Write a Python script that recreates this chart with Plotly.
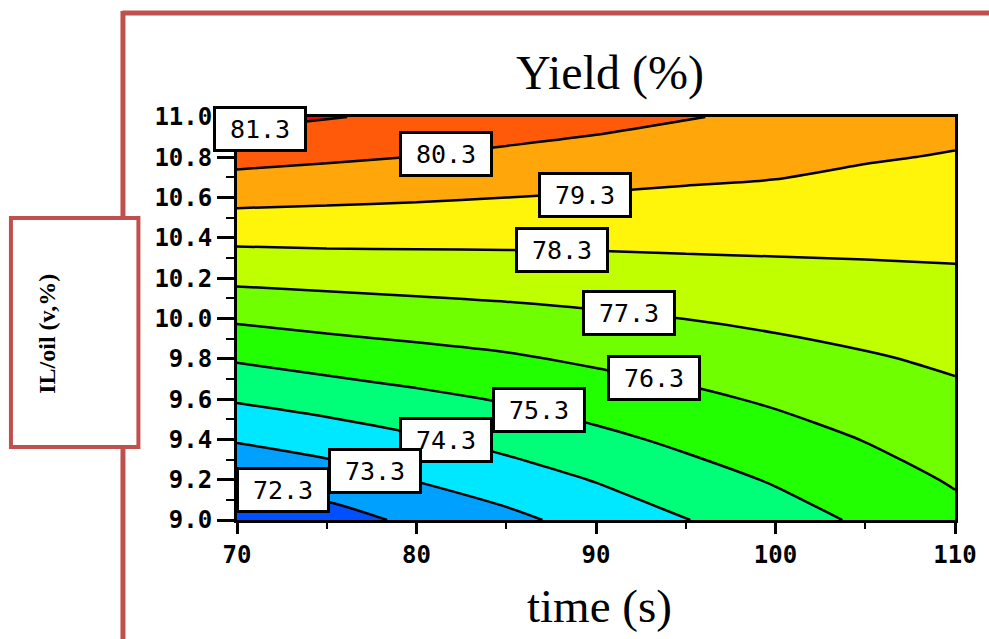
import plotly.graph_objects as go

# ---- data ----
time_s = [70, 75, 80, 85, 90, 95, 100, 105, 110]
il_oil = [9.0, 9.2, 9.4, 9.6, 9.8, 10.0, 10.2, 10.4, 10.6, 10.8, 11.0]
yield_grid = [
    [71.80, 71.89, 72.50, 73.05, 73.67, 74.27, 74.86, 75.45, 76.03],
    [72.57, 72.80, 73.34, 73.82, 74.35, 74.89, 75.39, 75.89, 76.39],
    [73.37, 73.75, 74.18, 74.61, 75.05, 75.51, 75.91, 76.33, 76.74],
    [74.40, 74.74, 75.06, 75.38, 75.76, 76.09, 76.43, 76.77, 77.10],
    [75.40, 75.70, 75.94, 76.17, 76.46, 76.70, 76.96, 77.21, 77.45],
    [76.44, 76.66, 76.82, 76.97, 77.15, 77.31, 77.49, 77.66, 77.81],
    [77.52, 77.61, 77.69, 77.76, 77.83, 77.93, 78.02, 78.10, 78.17],
    [78.51, 78.55, 78.54, 78.53, 78.52, 78.54, 78.54, 78.53, 78.53],
    [79.58, 79.48, 79.40, 79.30, 79.21, 79.12, 79.06, 78.95, 78.88],
    [80.61, 80.44, 80.28, 80.08, 79.91, 79.73, 79.59, 79.37, 79.24],
    [81.60, 81.35, 81.13, 80.86, 80.61, 80.35, 80.12, 79.80, 79.59],
]
level_start = 72.3
level_end = 81.3
level_step = 1.0
label_levels = ["81.3", "80.3", "79.3", "78.3", "77.3", "76.3", "75.3", "74.3", "73.3", "72.3"]

# ---- layout / style ----
label_pos = [(71.28, 10.94), (81.65, 10.816), (89.36, 10.613), (88.09, 10.34),
             (91.86, 10.027), (93.25, 9.705), (86.81, 9.546), (81.65, 9.397),
             (77.71, 9.243), (72.55, 9.149)]
band_colors = ["#0050FF", "#00A0FF", "#00E8FF", "#00FF78", "#22FF00", "#70FF00",
               "#C0FF00", "#FFF50A", "#FFA60A", "#FF5A0A", "#FF0000"]
colorscale = [[i / (len(band_colors) - 1), c] for i, c in enumerate(band_colors)]

W, H = 989, 639
L, R, T, B = 237, 958, 117, 520
def px(xp):
    return (xp - L) / (R - L)
def py(yp):
    return (B - yp) / (B - T)

frame = "#C0504D"
mono = "DejaVu Sans Mono, Liberation Mono, monospace"
serif = "Liberation Serif, Times New Roman, serif"

fig = go.Figure(go.Contour(
    x=time_s, y=il_oil, z=yield_grid,
    autocontour=False,
    contours=dict(start=level_start, end=level_end, size=level_step,
                  coloring="fill", showlines=True),
    line=dict(color="black", width=2.5, smoothing=0.7),
    colorscale=colorscale, showscale=False, hoverinfo="skip",
))

annotations = []
for txt, (ax_, ay_) in zip(label_levels, label_pos):
    annotations.append(dict(
        x=ax_, y=ay_, xref="x", yref="y", text=txt, showarrow=False,
        font=dict(family=mono, size=25, color="black"),
        bgcolor="white", bordercolor="black", borderwidth=3, borderpad=1,
        width=86, height=38, xanchor="center", yanchor="middle",
    ))
annotations.append(dict(x=px(612), y=py(73), xref="paper", yref="paper",
                        text="Yield (%)", showarrow=False,
                        font=dict(family=serif, size=48, color="black"),
                        xanchor="center", yanchor="middle"))
annotations.append(dict(x=px(601), y=py(606), xref="paper", yref="paper",
                        text="time (s)", showarrow=False,
                        font=dict(family=serif, size=47, color="black"),
                        xanchor="center", yanchor="middle"))
annotations.append(dict(x=px(46), y=py(334), xref="paper", yref="paper",
                        text="<b>IL/oil (v,%)</b>", showarrow=False, textangle=-90,
                        font=dict(family=serif, size=24, color="black"),
                        xanchor="center", yanchor="middle"))

shapes = [
    dict(type="line", xref="paper", yref="paper", x0=px(122), x1=px(W + 5),
         y0=py(13), y1=py(13), line=dict(color=frame, width=5)),
    dict(type="line", xref="paper", yref="paper", x0=px(122.5), x1=px(122.5),
         y0=py(11), y1=py(H + 5), line=dict(color=frame, width=5)),
    dict(type="rect", xref="paper", yref="paper", x0=px(10), x1=px(138),
         y0=py(218), y1=py(447), line=dict(color=frame, width=4), fillcolor="white"),
]

fig.update_layout(
    width=W, height=H,
    margin=dict(l=L, r=W - R, t=T, b=H - B),
    paper_bgcolor="white", plot_bgcolor="white",
    showlegend=False,
    annotations=annotations, shapes=shapes,
    xaxis=dict(range=[70, 110], tick0=70, dtick=10, ticks="outside", ticklen=11,
               tickwidth=3, tickcolor="black", showline=True, linewidth=3,
               linecolor="black", mirror=True, showgrid=False, zeroline=False,
               tickfont=dict(family=mono, size=24, color="black", weight="bold"),
               minor=dict(ticks="outside", ticklen=6, tickwidth=2, dtick=5,
                          tickcolor="black", showgrid=False)),
    yaxis=dict(range=[9, 11], tick0=9, dtick=0.2, tickformat=".1f", ticks="outside",
               ticklen=17, tickwidth=3, tickcolor="black", showline=True, linewidth=3,
               linecolor="black", mirror=True, showgrid=False, zeroline=False,
               tickfont=dict(family=mono, size=24, color="black", weight="bold"),
               minor=dict(ticks="outside", ticklen=8, tickwidth=2, dtick=0.1,
                          tickcolor="black", showgrid=False)),
)

fig.write_html("out.html")
